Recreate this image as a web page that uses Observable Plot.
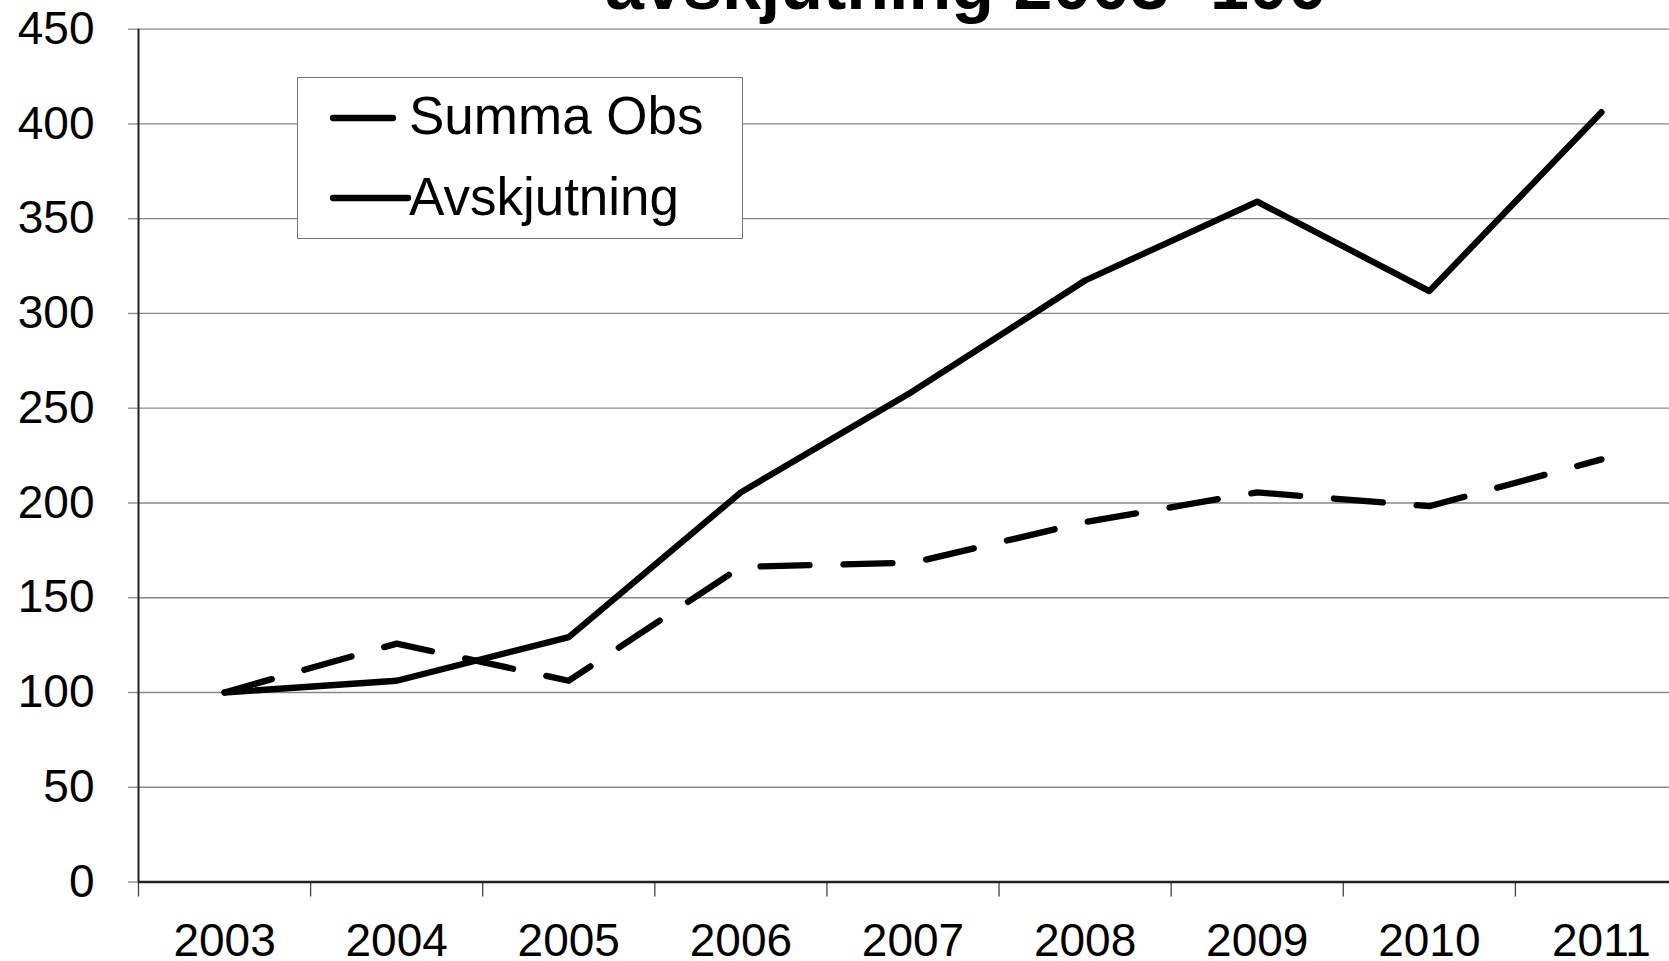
<!DOCTYPE html>
<html>
<head>
<meta charset="utf-8">
<script src="https://cdn.jsdelivr.net/npm/d3@7"></script>
<script src="https://cdn.jsdelivr.net/npm/@observablehq/plot@0.6"></script>
<style>
  html, body { margin: 0; padding: 0; background: #fff; overflow: hidden; width: 1669px; height: 961px; }
  #wrap { position: relative; width: 1669px; height: 961px; overflow: hidden; }
  #title { position: absolute; left: 0; width: 1932px; text-align: center; font: bold 70px "Liberation Sans", Arial, sans-serif; line-height: 1; top: -50px; color: #000; white-space: nowrap; }
  #legend { position: absolute; left: 297px; top: 77px; width: 446px; height: 162px; background: #fff; border: 1.3px solid #777; box-sizing: border-box; }
  #legend svg { display: block; }
  #chart svg { overflow: hidden; }
</style>
</head>
<body>
<div id="wrap">
  <div id="chart"></div>
  <div id="title">avskjutning  2003=100</div>
  <div id="legend"></div>
</div>
<script>
const years = [2003, 2004, 2005, 2006, 2007, 2008, 2009, 2010, 2011];
const summaObs = [100, 125.8, 106.2, 166.3, 168.5, 189.9, 205.6, 198.3, 223];
const avskjutning = [100, 106.2, 129.2, 205.6, 259, 317.4, 359, 311.8, 406.2];
const yTicks = [0, 50, 100, 150, 200, 250, 300, 350, 400, 450];
const seriesNames = ["Summa Obs", "Avskjutning"];

const rows = [];
years.forEach((yr, i) => {
  rows.push({year: yr, value: summaObs[i], series: seriesNames[0]});
  rows.push({year: yr, value: avskjutning[i], series: seriesNames[1]});
});
const bounds = years.map(y => y - 0.5);

const chart = Plot.plot({
  width: 1669,
  height: 961,
  marginLeft: 138,
  marginRight: 0,
  marginTop: 28.7,
  marginBottom: 79.5,
  style: { fontFamily: "'Liberation Sans', Arial, sans-serif", fontSize: "46px", color: "#000", background: "#fff" },
  x: { type: "linear", domain: [2002.5, 2011.5], range: [138, 1687] },
  y: { domain: [0, 450], range: [881.5, 28.7] },
  marks: [
    Plot.ruleY(yTicks.filter(d => d > 0), { stroke: "#888", strokeWidth: 1.3 }),
    Plot.axisY({ ticks: yTicks, tickSize: 10, tickPadding: 34, tickFormat: d => String(d), stroke: "#888", strokeWidth: 1.3, fontSize: 46, label: null }),
    Plot.ruleX(bounds, { y1: 0, y2: 0, insetBottom: -15, stroke: "#444", strokeWidth: 1.3 }),
    Plot.axisX({ ticks: years, tickSize: 0, tickPadding: 41, tickFormat: d => String(d), fontSize: 46, label: null }),
    Plot.ruleX([2002.5], { y1: 0, y2: 450, stroke: "#222", strokeWidth: 2 }),
    Plot.ruleY([0], { stroke: "#222", strokeWidth: 2.5 }),
    Plot.line(rows.filter(d => d.series === seriesNames[0]), { x: "year", y: "value", stroke: "#000", strokeWidth: 6.3, strokeDasharray: "49 34", strokeLinecap: "round", strokeLinejoin: "round" }),
    Plot.line(rows.filter(d => d.series === seriesNames[1]), { x: "year", y: "value", stroke: "#000", strokeWidth: 6.3, strokeLinecap: "round", strokeLinejoin: "round" })
  ]
});
document.getElementById("chart").appendChild(chart);

// legend
const ns = "http://www.w3.org/2000/svg";
const lg = document.createElementNS(ns, "svg");
lg.setAttribute("width", 446);
lg.setAttribute("height", 162);
const items = [
  { name: seriesNames[0], x1: 35, x2: 95, y: 40, ty: 56 },
  { name: seriesNames[1], x1: 35, x2: 110, y: 120, ty: 137 }
];
items.forEach(it => {
  const l = document.createElementNS(ns, "line");
  l.setAttribute("x1", it.x1); l.setAttribute("x2", it.x2);
  l.setAttribute("y1", it.y); l.setAttribute("y2", it.y);
  l.setAttribute("stroke", "#000"); l.setAttribute("stroke-width", 6.3);
  l.setAttribute("stroke-linecap", "round");
  lg.appendChild(l);
  const t = document.createElementNS(ns, "text");
  t.setAttribute("x", 111); t.setAttribute("y", it.ty);
  t.setAttribute("font-family", "'Liberation Sans', Arial, sans-serif");
  t.setAttribute("font-size", 53);
  t.textContent = it.name;
  lg.appendChild(t);
});
document.getElementById("legend").appendChild(lg);
</script>
</body>
</html>
